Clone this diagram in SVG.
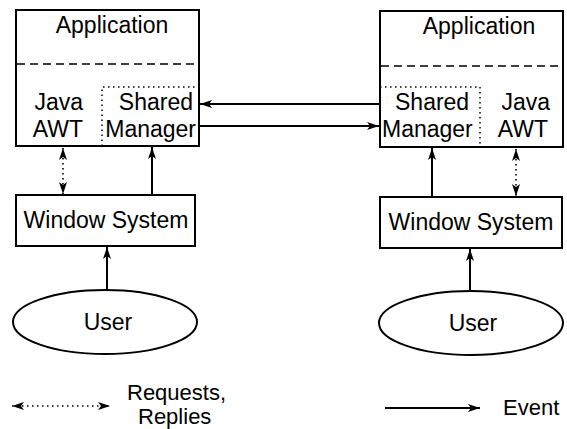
<svg xmlns="http://www.w3.org/2000/svg" width="567" height="429" viewBox="0 0 567 429">
  <defs>
    <marker id="head" viewBox="0 0 12 8" refX="12" refY="4" markerWidth="12" markerHeight="8" markerUnits="userSpaceOnUse" orient="auto-start-reverse">
      <path d="M0,0 L12,4 L0,8 L3,4 Z" fill="#000"/>
    </marker>
  </defs>
  <style>
    .box { fill: #fff; stroke: #000; stroke-width: 2; }
    .dash { fill: none; stroke: #000; stroke-width: 1.6; stroke-dasharray: 8 5; }
    .dot { fill: none; stroke: #000; stroke-width: 1.5; stroke-dasharray: 1.5 3.5; }
    .event { fill: none; stroke: #000; stroke-width: 2; marker-end: url(#head); }
    .req { fill: none; stroke: #000; stroke-width: 1.6; stroke-dasharray: 1.5 3.5; marker-start: url(#head); marker-end: url(#head); }
    text { font-family: "Liberation Sans", Arial, sans-serif; font-size: 23px; fill: #000; }
    .legend { font-size: 22px; }
    .mid { text-anchor: middle; }
    .end { text-anchor: end; }
  </style>

  <!-- left host -->
  <g id="app-left">
    <rect class="box" x="16" y="10" width="183" height="136"/>
    <line class="dash" x1="17" y1="64" x2="198" y2="64"/>
    <polyline class="dot" points="102,146 102,87 199,87"/>
    <text class="mid" x="112" y="33">Application</text>
    <text class="end" x="83" y="110">Java</text>
    <text class="end" x="83" y="137">AWT</text>
    <text class="end" x="193" y="110">Shared</text>
    <text class="end" x="196" y="137">Manager</text>
  </g>
  <g id="ws-left">
    <rect class="box" x="16" y="195" width="179" height="51"/>
    <text class="mid" x="106" y="228">Window System</text>
  </g>
  <g id="user-left">
    <ellipse class="box" cx="105" cy="322" rx="92" ry="32"/>
    <text class="mid" x="108" y="330">User</text>
  </g>

  <!-- right host -->
  <g id="app-right">
    <rect class="box" x="380" y="11" width="183" height="136"/>
    <line class="dash" x1="381" y1="66" x2="562" y2="66"/>
    <polyline class="dot" points="380,87 480,87 480,147"/>
    <text class="mid" x="479" y="34">Application</text>
    <text x="395" y="110">Shared</text>
    <text x="382" y="137">Manager</text>
    <text class="end" x="550" y="110">Java</text>
    <text class="end" x="548" y="137">AWT</text>
  </g>
  <g id="ws-right">
    <rect class="box" x="380" y="197" width="182" height="51"/>
    <text class="mid" x="471" y="230">Window System</text>
  </g>
  <g id="user-right">
    <ellipse class="box" cx="471" cy="323" rx="92" ry="32"/>
    <text class="mid" x="473" y="331">User</text>
  </g>

  <!-- connectors -->
  <g id="connectors">
    <line class="event" x1="381" y1="104" x2="200" y2="104"/>
    <line class="event" x1="200" y1="126" x2="379" y2="126"/>
    <line class="req" x1="63" y1="148" x2="63" y2="194"/>
    <line class="event" x1="152" y1="195" x2="152" y2="147"/>
    <line class="event" x1="107" y1="290" x2="107" y2="247"/>
    <line class="event" x1="432" y1="197" x2="432" y2="148"/>
    <line class="req" x1="516" y1="149" x2="516" y2="196"/>
    <line class="event" x1="470" y1="291" x2="470" y2="249"/>
  </g>

  <!-- legend -->
  <g id="legend">
    <line class="req" x1="12" y1="406" x2="110" y2="406"/>
    <text class="legend" x="127" y="400">Requests,</text>
    <text class="legend" x="138" y="424">Replies</text>
    <line class="event" x1="385" y1="408" x2="480" y2="408"/>
    <text class="legend" x="503" y="415">Event</text>
  </g>
</svg>
